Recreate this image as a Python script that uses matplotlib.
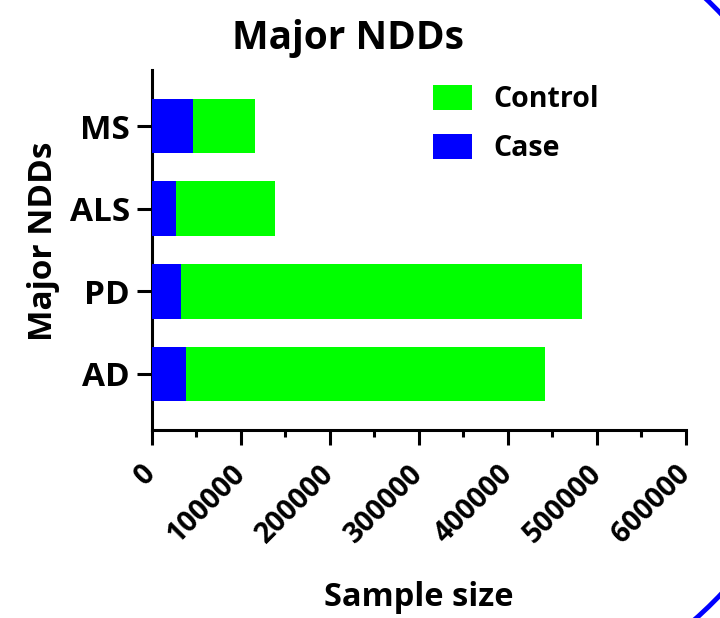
import matplotlib
matplotlib.use("Agg")
import matplotlib.pyplot as plt
from matplotlib.patches import Arc
from matplotlib.ticker import MultipleLocator

plt.rcParams['font.family'] = ['Open Sans', 'DejaVu Sans']
plt.rcParams['font.weight'] = 'bold'

categories = ["AD", "PD", "ALS", "MS"]
case_values = [39000, 33100, 27100, 46900]
control_values = [402300, 449700, 111100, 69200]
xticks = [0, 100000, 200000, 300000, 400000, 500000, 600000]
xtick_labels = ["0", "100000", "200000", "300000", "400000", "500000", "600000"]

W, H = 720, 618
fig = plt.figure(figsize=(W / 100, H / 100), dpi=100)
ax = fig.add_axes([151.5 / W, 1 - 430 / H, (686 - 151.5) / W, (430 - 70) / H])

y = list(range(len(categories)))
ax.barh(y, case_values, height=0.66, color="#0000FF", label="Case", zorder=3)
ax.barh(y, control_values, left=case_values, height=0.66, color="#00FF00",
        label="Control", zorder=3)

ax.set_xlim(0, 600000)
ax.set_ylim(-0.68, 3.68)
ax.set_yticks(y)
ax.set_yticklabels(categories, fontsize=24, fontweight='bold')
ax.set_xticks(xticks)
ax.set_xticklabels(xtick_labels, fontsize=20.5, fontweight='bold', rotation=45,
                   ha='right', va='center', rotation_mode='anchor')
ax.xaxis.set_minor_locator(MultipleLocator(50000))

for s in ['top', 'right']:
    ax.spines[s].set_visible(False)
for s in ['left', 'bottom']:
    ax.spines[s].set_linewidth(2.2)

ax.tick_params(axis='x', which='major', length=10.5, width=2.2, pad=18)
ax.tick_params(axis='x', which='minor', length=5, width=2.2)
ax.tick_params(axis='y', which='major', length=10.5, width=2.2, pad=5)

ax.set_xlabel("Sample size", fontsize=23.5, fontweight='bold', va='center')
ax.xaxis.set_label_coords(0.5, (430 - 597) / 360)
ax.set_ylabel("Major NDDs", fontsize=24, fontweight='bold', va='center')
ax.yaxis.set_label_coords((44 - 151.5) / 534.5, (430 - 241.5) / 360)

ax.set_title("Major NDDs", fontsize=28, fontweight='bold', pad=0,
             x=(347.5 - 151.5) / 534.5, y=(430 - 49.3) / 360, va='baseline')

handles, labels = ax.get_legend_handles_labels()
leg = ax.legend(handles[::-1], labels[::-1], loc='upper left',
                bbox_to_anchor=(433 / W, 1 - 85 / H), bbox_transform=fig.transFigure,
                frameon=False, fontsize=20.5, handlelength=1.36, handleheight=0.98,
                handletextpad=0.75, labelspacing=0.68, borderpad=0, borderaxespad=0)
for t in leg.get_texts():
    t.set_fontweight('bold')

arc = Arc((4.16, (H - 304) / 100), 8.42, 8.42, theta1=-60, theta2=60,
          transform=fig.dpi_scale_trans, edgecolor="#0000FF", linewidth=3.5,
          clip_on=False)
fig.patches.append(arc)

fig.savefig("out.png", dpi=100)
